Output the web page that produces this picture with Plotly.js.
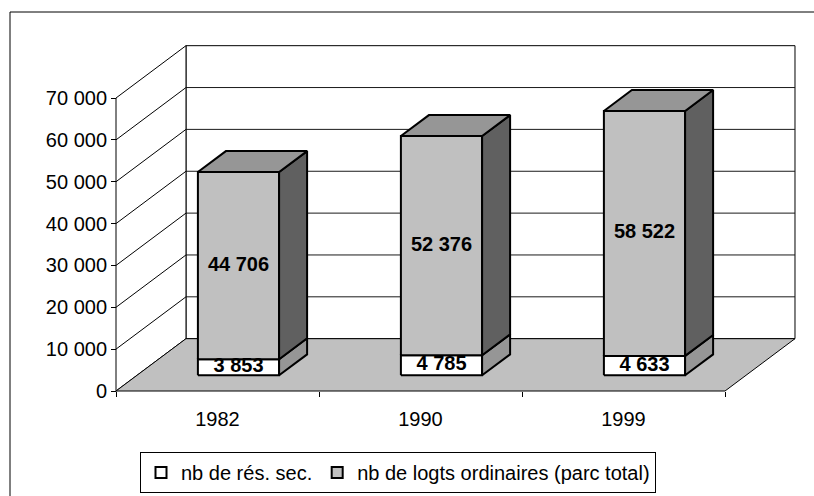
<!DOCTYPE html>
<html>
<head>
<meta charset="utf-8">
<script src="https://cdn.plot.ly/plotly-3.0.1.min.js"></script>
<style>html,body{margin:0;padding:0;background:#fff;}#chart{width:814px;height:496px;}</style>
</head>
<body>
<div id="chart"></div>
<script>
// ---- data ----
const categories = ['1982', '1990', '1999'];
const resSec = [3853, 4785, 4633];
const logtsOrd = [44706, 52376, 58522];
const resSecLabels = ['3 853', '4 785', '4 633'];
const logtsOrdLabels = ['44 706', '52 376', '58 522'];
const seriesNames = ['nb de rés. sec.', 'nb de logts ordinaires (parc total)'];
const yTickVals = [0, 10000, 20000, 30000, 40000, 50000, 60000, 70000];
const yTickText = ['0', '10 000', '20 000', '30 000', '40 000', '50 000', '60 000', '70 000'];

// ---- 3D oblique projection in axis units ----
const FONT = 'Liberation Sans, Arial, sans-serif';
const DX = 0.3448;   // depth offset along x (category units)
const DY = 12500;    // depth offset along y (value units)
const YMAX = yTickVals[yTickVals.length - 1];
const NCAT = categories.length;
const BAR_W = 0.4, Z0 = 0.3, Z1 = 0.7;

function P(u, v, z) { return [u + z * DX, v + z * DY]; }
function poly(pts, fill, lw) {
  const xs = pts.map(p => p[0]); const ys = pts.map(p => p[1]);
  xs.push(xs[0]); ys.push(ys[0]);
  return {type: 'scatter', mode: 'lines', x: xs, y: ys, fill: 'toself', fillcolor: fill,
    line: {color: '#000', width: lw}, hoverinfo: 'skip', showlegend: false};
}
function segs(list, color, w) {
  const xs = [], ys = [];
  list.forEach(s => { xs.push(s[0][0], s[1][0], null); ys.push(s[0][1], s[1][1], null); });
  return {type: 'scatter', mode: 'lines', x: xs, y: ys, line: {color: color, width: w},
    hoverinfo: 'skip', showlegend: false};
}

const traces = [];
// back wall
traces.push(poly([P(0, 0, 1), P(NCAT, 0, 1), P(NCAT, YMAX, 1), P(0, YMAX, 1)], '#ffffff', 1));
traces.push(segs(yTickVals.slice(1, -1).map(t => [P(0, t, 1), P(NCAT, t, 1)]), '#1a1a1a', 1));
// left wall
traces.push(poly([P(0, 0, 0), P(0, YMAX, 0), P(0, YMAX, 1), P(0, 0, 1)], '#ffffff', 1));
traces.push(segs(yTickVals.slice(1, -1).map(t => [P(0, t, 0), P(0, t, 1)]), '#000', 1));
// floor
traces.push(poly([P(0, 0, 0), P(NCAT, 0, 0), P(NCAT, 0, 1), P(0, 0, 1)], '#c0c0c0', 1));

// bars
const labX = [], labY = [], labT = [];
categories.forEach((c, i) => {
  const u0 = i + 0.5 - BAR_W / 2, u1 = i + 0.5 + BAR_W / 2;
  const stacks = [
    {v0: 0, v1: resSec[i], front: '#ffffff', side: '#969696', top: '#e0e0e0', lab: resSecLabels[i]},
    {v0: resSec[i], v1: resSec[i] + logtsOrd[i], front: '#c0c0c0', side: '#606060', top: '#969696', lab: logtsOrdLabels[i]}
  ];
  stacks.forEach((s, k) => {
    traces.push(poly([P(u0, s.v0, Z0), P(u1, s.v0, Z0), P(u1, s.v1, Z0), P(u0, s.v1, Z0)], s.front, 2));
    traces.push(poly([P(u1, s.v0, Z0), P(u1, s.v0, Z1), P(u1, s.v1, Z1), P(u1, s.v1, Z0)], s.side, 2));
    if (k === stacks.length - 1) {
      traces.push(poly([P(u0, s.v1, Z0), P(u1, s.v1, Z0), P(u1, s.v1, Z1), P(u0, s.v1, Z1)], s.top, 2));
    }
    const m = P(i + 0.5, (s.v0 + s.v1) / 2, Z0);
    labX.push(m[0]); labY.push(m[1]); labT.push(s.lab);
  });
});
traces.push({type: 'scatter', mode: 'text', x: labX, y: labY, text: labT, textposition: 'middle center',
  textfont: {family: FONT, size: 20, color: '#000', weight: 'bold'}, cliponaxis: false,
  hoverinfo: 'skip', showlegend: false});

// legend entries
traces.push({type: 'scatter', mode: 'markers', x: [null], y: [null], name: seriesNames[0],
  marker: {symbol: 'square', size: 11, color: '#ffffff', line: {color: '#000', width: 2}}, hoverinfo: 'skip'});
traces.push({type: 'scatter', mode: 'markers', x: [null], y: [null], name: seriesNames[1],
  marker: {symbol: 'square', size: 11, color: '#c0c0c0', line: {color: '#000', width: 2}}, hoverinfo: 'skip'});

// ---- layout: plot area 106..800 px wide, 40..400 px tall ----
const L = 106, R = 800, T = 40, B = 400;
const PXU = 203;             // px per category unit
const PXV = 293 / 70000;     // px per value unit
const X0PX = 116, Y0PX = 391;
const layout = {
  width: 814, height: 496,
  margin: {l: L, r: 814 - R, t: T, b: 496 - B, pad: 0, autoexpand: false},
  paper_bgcolor: '#ffffff', plot_bgcolor: 'rgba(0,0,0,0)',
  font: {family: FONT, size: 20, color: '#000'},
  showlegend: true,
  legend: {orientation: 'h', x: (140 - L) / (R - L), xanchor: 'left', y: (B - 452) / (B - T), yanchor: 'top',
    bordercolor: '#000', borderwidth: 1, bgcolor: '#fff', font: {family: FONT, size: 20, color: '#000'},
    traceorder: 'normal', itemwidth: 30},
  xaxis: {
    range: [(L - X0PX) / PXU, (R - X0PX) / PXU],
    anchor: 'free', position: (B - Y0PX) / (B - T),
    tickvals: categories.map((c, i) => i + 0.5), ticktext: categories,
    ticks: '', showgrid: false, zeroline: false, showline: false,
    tickfont: {family: FONT, size: 20, color: '#000'}, ticklabelstandoff: 14,
    minor: {tickvals: categories.map((c, i) => i).concat([NCAT]), ticks: 'outside', ticklen: 5, tickwidth: 1, tickcolor: '#000', showgrid: false},
    fixedrange: true
  },
  yaxis: {
    range: [(Y0PX - B) / PXV, (Y0PX - T) / PXV],
    anchor: 'free', position: (X0PX - L) / (R - L),
    tickvals: yTickVals, ticktext: yTickText,
    ticks: 'outside', ticklen: 5, tickwidth: 1, tickcolor: '#000',
    showgrid: false, zeroline: false, showline: false,
    tickfont: {family: FONT, size: 20, color: '#000'},
    fixedrange: true
  },
  shapes: [{type: 'rect', xref: 'paper', yref: 'paper',
    x0: (10 - L) / (R - L), x1: (830 - L) / (R - L), y0: (B - 520) / (B - T), y1: (B - 12) / (B - T),
    line: {color: '#000', width: 1}, fillcolor: 'rgba(0,0,0,0)', layer: 'below'}]
};
Plotly.newPlot('chart', traces, layout, {displayModeBar: false, staticPlot: true});
</script>
</body>
</html>
